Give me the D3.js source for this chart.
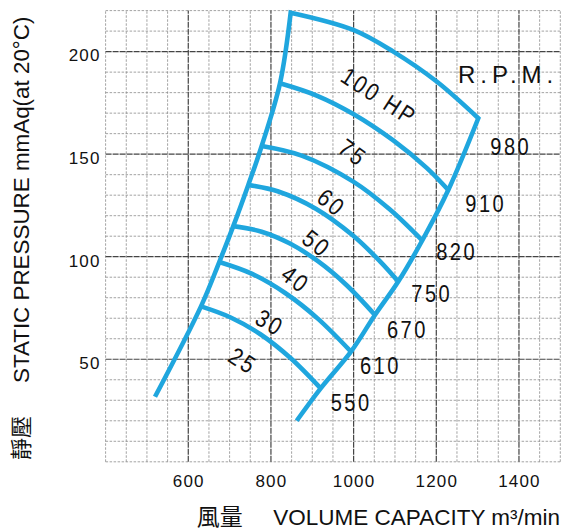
<!DOCTYPE html>
<html>
<head>
<meta charset="utf-8">
<script src="https://cdn.jsdelivr.net/npm/d3@7"></script>
<style>
  html, body { margin: 0; padding: 0; background: #fff; }
  svg { display: block; }
</style>
</head>
<body>
<svg id="chart" width="563" height="530"></svg>
<script>
// ---------- DATA ----------
const xDomain = [400, 1500];
const yDomain = [0, 220];
const xTickValues = [600, 800, 1000, 1200, 1400];
const yTickValues = [50, 100, 150, 200];

// performance envelope (volume m3/min, static pressure mmAq)
const leftBoundary = [[519.5,31.7],[630.8,75.8],[675.0,97.4],[708.9,114.9],[745.2,135.0],[777.6,154.0],[821.9,184.6],[847.7,219.0]];
const rightBoundary = [[862.3,20.0],[920.3,35.8],[993.6,53.7],[1051.6,71.6],[1108.0,87.9],[1166.0,107.9],[1229.0,132.5],[1301.6,167.5]];

// horsepower curves
const hp100 = [[847.7,219.0],[999.2,210.6],[1096,200],[1201,185.4],[1301.6,167.5]];
const hp75  = [[821.9,184.6],[910.6,178.6],[999.2,169.6],[1096,156.7],[1176.7,143.3],[1229.0,132.5]];
const hp60  = [[777.6,154.0],[874.4,149.3],[999.2,136.6],[1087.2,123.1],[1166.0,107.9]];
const hp50  = [[745.2,135.0],[817.8,131.8],[908.5,123.4],[999.2,110.2],[1064.5,97.6],[1108.0,87.9]];
const hp40  = [[708.9,114.9],[777.4,112.2],[846.1,106.4],[914.5,97.7],[983.2,86.1],[1051.6,71.6]];
const hp30  = [[675.0,97.4],[754.6,91.6],[834.4,82.3],[914.0,69.7],[993.6,53.7]];
const hp25  = [[630.8,75.8],[701.4,70.5],[774.5,62.2],[847.3,50.6],[920.3,35.8]];

const hpLabels  = ["25", "30", "40", "50", "60", "75", "100 HP"];
const rpmLabels = ["550", "610", "670", "750", "820", "910", "980"];

// ---------- LAYOUT (label placement, not data) ----------
const hpLabelAt    = [[733,49.3],[798,67.9],[860,89.0],[911,106.5],[947,126.4],[999,150.8],[1062,178.3]];
const hpLabelAngle = [33, 30, 37, 38, 39, 36, 33];
const rpmOffsets   = [[10,23],[9,22],[12,23],[13,20],[14,19],[17,22],[12,37]];

// ---------- CHART ----------
const svg = d3.select("#chart");
const x = d3.scaleLinear().domain(xDomain).range([105.6, 560.3]);
const y = d3.scaleLinear().domain(yDomain).range([461.8, 10.6]);

const grid = svg.append("g");
const xMinor = d3.range(xDomain[0], xDomain[1] + 1, 50).filter(v => !xTickValues.includes(v));
const yMinor = d3.range(yDomain[0], yDomain[1] + 1, 10).filter(v => !yTickValues.includes(v));

grid.selectAll("line.xm").data(xMinor).join("line")
  .attr("x1", d => x(d)).attr("x2", d => x(d))
  .attr("y1", y(yDomain[0])).attr("y2", y(yDomain[1]))
  .attr("stroke", "#8c8c8c").attr("stroke-width", 0.8).attr("stroke-dasharray", "2.5,1.5");
grid.selectAll("line.ym").data(yMinor).join("line")
  .attr("y1", d => y(d)).attr("y2", d => y(d))
  .attr("x1", x(xDomain[0])).attr("x2", x(xDomain[1]))
  .attr("stroke", "#8c8c8c").attr("stroke-width", 0.8).attr("stroke-dasharray", "2.5,1.5");
grid.selectAll("line.xM").data(xTickValues).join("line")
  .attr("x1", d => x(d)).attr("x2", d => x(d))
  .attr("y1", y(yDomain[0])).attr("y2", y(yDomain[1]))
  .attr("stroke", "#444").attr("stroke-width", 1.2).attr("stroke-dasharray", "6,1");
grid.selectAll("line.yM").data(yTickValues).join("line")
  .attr("y1", d => y(d)).attr("y2", d => y(d))
  .attr("x1", x(xDomain[0])).attr("x2", x(xDomain[1]))
  .attr("stroke", "#444").attr("stroke-width", 1.2).attr("stroke-dasharray", "6,1");

// axes (labels only)
const tickFont = "'Liberation Sans', Arial, Helvetica, sans-serif";
const yAxis = svg.append("g").attr("transform", `translate(${x(xDomain[0])},0)`)
  .call(d3.axisLeft(y).tickValues(yTickValues).tickFormat(d3.format("d")).tickSize(0).tickPadding(5));
yAxis.select(".domain").remove();
yAxis.selectAll("text").attr("font-family", tickFont).attr("font-size", 17)
  .attr("letter-spacing", "1.2px").attr("fill", "#111").attr("dy", "0.55em");

const xAxis = svg.append("g").attr("transform", `translate(0,${y(yDomain[0])})`)
  .call(d3.axisBottom(x).tickValues(xTickValues).tickFormat(d3.format("d")).tickSize(0).tickPadding(13.5));
xAxis.select(".domain").remove();
xAxis.selectAll("text").attr("font-family", tickFont).attr("font-size", 17)
  .attr("letter-spacing", "1.2px").attr("fill", "#111");

// curves
const blue = "#1fa6de";
const line = d3.line().x(d => x(d[0])).y(d => y(d[1])).curve(d3.curveCatmullRom.alpha(0.5));

const outline = line(leftBoundary) + line(hp100).replace(/^M/, "L") +
  line(rightBoundary.slice().reverse()).replace(/^M/, "L");
svg.append("path").attr("d", outline).attr("fill", "none")
  .attr("stroke", blue).attr("stroke-width", 4.6)
  .attr("stroke-linejoin", "miter").attr("stroke-miterlimit", 10);

const inner = [hp25, hp30, hp40, hp50, hp60, hp75];
svg.selectAll("path.hp").data(inner).join("path").attr("class", "hp")
  .attr("d", d => line(d)).attr("fill", "none")
  .attr("stroke", blue).attr("stroke-width", 4.6);

// HP labels
const numFont = "'Liberation Sans', Arial, sans-serif";
svg.selectAll("text.hpl").data(hpLabels).join("text").attr("class", "hpl")
  .attr("transform", (d, i) => `translate(${x(hpLabelAt[i][0])},${y(hpLabelAt[i][1])}) rotate(${hpLabelAngle[i]}) scale(0.85,1)`)
  .attr("text-anchor", "middle").attr("dy", "0.36em")
  .attr("font-family", numFont).attr("font-size", 24.5).attr("letter-spacing", "3px")
  .attr("fill", "#111").text(d => d);

// RPM labels at right boundary corners
const rpmCorners = rightBoundary.slice(1);
svg.selectAll("text.rpm").data(rpmLabels).join("text").attr("class", "rpm")
  .attr("transform", (d, i) => `translate(${x(rpmCorners[i][0]) + rpmOffsets[i][0]},${y(rpmCorners[i][1]) + rpmOffsets[i][1]}) scale(0.82,1)`)
  .attr("font-family", numFont).attr("font-size", 24.5).attr("letter-spacing", "3px")
  .attr("fill", "#111").text(d => d);

svg.append("text").attr("x", 458).attr("y", 83.3)
  .attr("font-family", tickFont).attr("font-size", 24).attr("letter-spacing", "5px")
  .attr("fill", "#111").text("R.P.M.");

// axis titles
svg.append("text").attr("transform", "translate(28.5,460) rotate(-90)")
  .attr("font-family", "'Noto Sans CJK TC', 'Noto Sans CJK SC', sans-serif").attr("font-size", 22)
  .attr("fill", "#111").text("靜壓");
svg.append("text").attr("transform", "translate(28.5,383) rotate(-90)")
  .attr("font-family", tickFont).attr("font-size", 22.4)
  .attr("fill", "#111").text("STATIC PRESSURE mmAq(at 20°C)");

svg.append("text").attr("x", 196.7).attr("y", 524.5)
  .attr("font-family", "'Noto Sans CJK TC', 'Noto Sans CJK SC', sans-serif").attr("font-size", 23)
  .attr("fill", "#111").text("風量");
svg.append("text").attr("x", 273.3).attr("y", 525)
  .attr("font-family", tickFont).attr("font-size", 22.5)
  .attr("fill", "#111").text("VOLUME CAPACITY m³/min");
</script>
</body>
</html>
